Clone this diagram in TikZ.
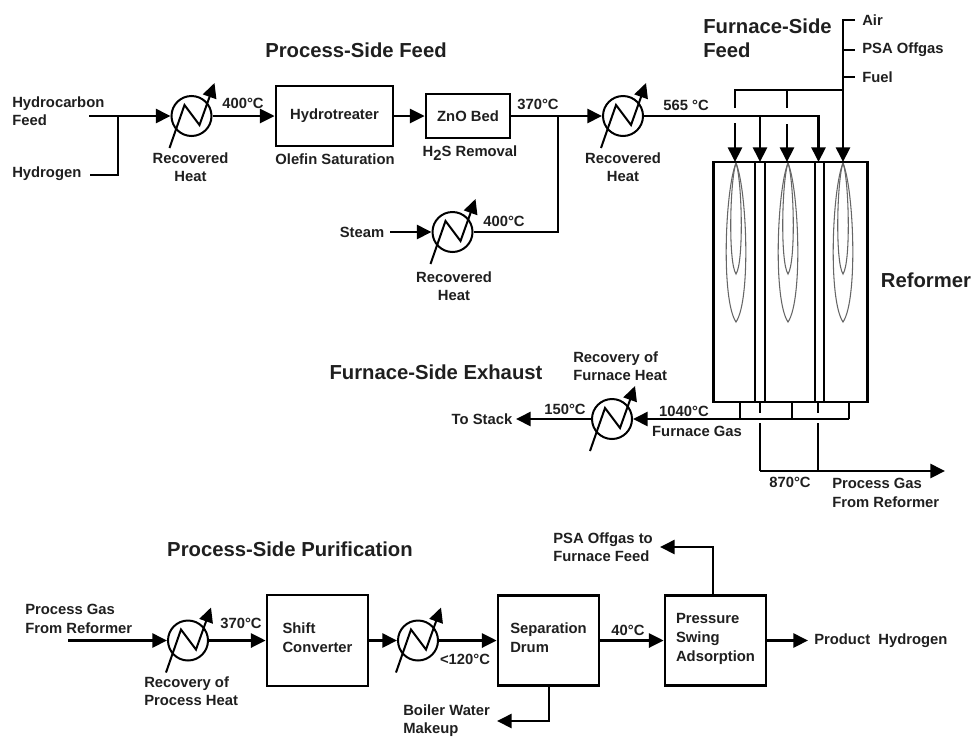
\documentclass[tikz,border=0pt]{standalone}
\usepackage{fontspec}
\setmainfont{Liberation Sans}
\usetikzlibrary{arrows.meta}
\tikzset{
  lbl/.style={inner sep=0pt,font=\fontsize{11.1}{13.7}\selectfont\bfseries,align=left,text=black!88},
  lblc/.style={lbl,align=center},
  head/.style={inner sep=0pt,font=\fontsize{15.2}{18}\selectfont\bfseries,align=left,text=black!88},
  pipe/.style={line width=2pt,line cap=butt,line join=miter},
  flow/.style={pipe,-{Triangle[length=11pt,width=10.5pt]}},
  unitbox/.style n args={2}{draw=black,line width=2.05pt,fill=white,inner sep=0pt,
     minimum width=#1*0.75pt,minimum height=#2*0.75pt,
     font=\fontsize{11.1}{13.7}\selectfont\bfseries,align=left,text=black!88},
  hxc/.style={circle,draw=black,line width=1.5pt,fill=white,inner sep=0pt,minimum size=30pt},
  hot/.style={line width=1.5pt,line join=miter,-{Triangle[length=11pt,width=10.5pt]}},
  flame/.style={draw=black!60,line width=0.8pt},
}
\newcommand{\hxunit}[3]{%
  \node[hxc] (#1) at (#2,#3) {};
  \draw[hot,shift={(#1.center)}] (-22,32) -- (-7,-11) -- (8,9) -- (23,-33);
}
\newcommand{\flameat}[1]{%
  \draw[flame] (#1,163) .. controls (#1+11,190) and (#1+15,300) .. (#1,322)
     .. controls (#1-15,300) and (#1-11,190) .. (#1,163);
  \draw[flame] (#1,163) .. controls (#1+6,180) and (#1+8,262) .. (#1,274)
     .. controls (#1-8,262) and (#1-6,180) .. (#1,163);
}
\begin{document}
\begin{tikzpicture}[x=0.75pt,y=-0.75pt]
\useasboundingbox (0,0) rectangle (973,736);

% ---- process units
\node[unitbox={117}{60}] (hydro) at (334.5,116) {Hydrotreater};
\node[unitbox={84}{44}] (zno) at (468,116) {ZnO Bed};
\node[unitbox={101}{91}] (shift) at (317.5,640.5) {Shift\\[0.5pt]Converter\\[-9pt]\mbox{}};
\node[unitbox={101}{90}] (sep) at (548.5,640.5) {Separation\\[0.5pt]Drum\\[-9pt]\mbox{}};
\node[unitbox={101}{90}] (psa) at (715.5,640.5) {Pressure\\[0.5pt]Swing\\[0.5pt]Adsorption\\[-9pt]\mbox{}};

% ---- heat exchangers
\hxunit{hxa}{191.5}{116}
\hxunit{hxb}{623}{116}
\hxunit{hxs}{452.5}{232}
\hxunit{hxe}{612}{419}
\hxunit{hxp}{188}{640.5}
\hxunit{hxq}{418}{640.5}

% ---- reformer
\node[draw=black,line width=1.9pt,inner sep=0pt,minimum width=115.5pt,minimum height=180pt] (ref) at (790.5,282) {};
\coordinate (wa1) at (755,162); \coordinate (wa2) at (755,402);
\coordinate (wb1) at (765,162); \coordinate (wb2) at (765,402);
\coordinate (wc1) at (815,162); \coordinate (wc2) at (815,402);
\coordinate (wd1) at (824,162); \coordinate (wd2) at (824,402);
\draw[pipe] (wa1) -- (wa2); \draw[pipe] (wb1) -- (wb2);
\draw[pipe] (wc1) -- (wc2); \draw[pipe] (wd1) -- (wd2);
\flameat{736}
\flameat{788}
\flameat{843}

% ---- text labels
\node[head,anchor=center] (tpf) at (356,50) {Process-Side Feed};
\node[head,anchor=west] (tff) at (703,38) {Furnace-Side\\Feed};
\node[head,anchor=center] (tref) at (926,280) {Reformer};
\node[head,anchor=center] (tfe) at (436,372) {Furnace-Side Exhaust};
\node[head,anchor=center] (tpp) at (290,549) {Process-Side Purification};

\node[lbl,anchor=west] (lair) at (862,20) {Air};
\node[lbl,anchor=west] (lpsa) at (862,50) {PSA Offgas};
\node[lbl,anchor=west] (lfuel) at (862,77) {Fuel};
\node[lbl,anchor=west] (lhc) at (12,111) {Hydrocarbon\\Feed};
\node[lbl,anchor=west] (lh2) at (12,174) {Hydrogen};
\node[lblc] (rh1) at (190.5,167) {Recovered\\Heat};
\node[lblc] (t400a) at (243,103) {400°C};
\node[lblc] (lola) at (335,159) {Olefin Saturation};
\node[lblc] (lh2s) at (470,153) {H\raisebox{-3pt}{2}S Removal};
\node[lblc] (t370a) at (538,104) {370°C};
\node[lblc] (rh2) at (623,167) {Recovered\\Heat};
\node[lblc] (t565) at (686,105) {565 °C};
\node[lblc] (lsteam) at (362,232) {Steam};
\node[lblc] (t400b) at (504,221) {400°C};
\node[lblc] (rh3) at (454,286) {Recovered\\Heat};
\node[lbl,anchor=west] (lrfh) at (573,366.5) {Recovery of\\Furnace Heat};
\node[lblc] (lstack) at (482,419) {To Stack};
\node[lblc] (t150) at (565,409) {150°C};
\node[lblc] (t1040) at (684,411) {1040°C};
\node[lblc] (lfg) at (697,431) {Furnace Gas};
\node[lblc] (t870) at (790,482) {870°C};
\node[lbl,anchor=west] (lpgr) at (832,493) {Process Gas\\From Reformer};
\node[lbl,anchor=west] (lpgl) at (25,619) {Process Gas\\From Reformer};
\node[lblc] (t370b) at (241,623) {370°C};
\node[lbl,anchor=west] (lrph) at (144,691) {Recovery of\\Process Heat};
\node[lblc] (t120) at (465,659) {<120°C};
\node[lbl,anchor=west] (lbw) at (403,721) {Boiler Water\\Makeup};
\node[lblc] (t40) at (628,630) {40°C};
\node[lbl,anchor=west] (lof) at (553,547) {PSA Offgas to\\Furnace Feed};
\node[lbl,anchor=west] (lprod) at (814,640.5) {Product\ \ Hydrogen};

% ---- free ends and junctions
\coordinate (hcs) at (89,116);
\coordinate (hys) at (90,175);
\coordinate (hyj) at (118,175);
\coordinate (hcj) at (118,116);
\coordinate (mix) at (558,116);
\coordinate (stm) at (390,232);
\coordinate (mixb) at (558,232);
\coordinate (stk) at (516,419);
\coordinate (pgs) at (68,640.5);
\coordinate (prd) at (808,640.5);
\coordinate (ofa) at (713,547);
\coordinate (oft) at (660,547);
\coordinate (bwa) at (549,721);
\coordinate (bwt) at (497,721);

% ---- process side
\draw[pipe] (hys) -- (hyj) -- (hcj);
\draw[flow] (hcs) -- (hxa.west);
\draw[flow] (hxa.east) -- (hydro.west);
\draw[flow] (hydro.east) -- (zno.west);
\draw[flow] (zno.east) -- (hxb.west);
\draw[pipe] (hxs.east) -- (mixb) -- (mix);
\draw[flow] (stm) -- (hxs.west);

% ---- reformer feeds
\coordinate (top) at (843,20);
\coordinate (airt) at (855,20);
\coordinate (psaj) at (843,50); \coordinate (psat) at (855,50);
\coordinate (fuej) at (843,77); \coordinate (fuet) at (855,77);
\coordinate (hdr) at (843,90);
\coordinate (hl) at (735,90);
\coordinate (hl2) at (735,108);
\coordinate (hm) at (787,90);
\coordinate (hm2) at (787,108);
\coordinate (fa) at (735,123); \coordinate (faT) at (735,162);
\coordinate (fb) at (787,124); \coordinate (fbT) at (787,162);
\coordinate (fcT) at (843,162);
\draw[pipe] (airt) -- (top) -- (fuej);
\draw[pipe] (psaj) -- (psat);
\draw[pipe] (fuej) -- (fuet);
\draw[flow] (top) -- (fcT);
\draw[pipe] (hl2) -- (hl) -- (hdr);
\draw[pipe] (hm) -- (hm2);
\draw[flow] (fa) -- (faT);
\draw[flow] (fb) -- (fbT);
\coordinate (pa) at (760,115); \coordinate (paT) at (760,162);
\coordinate (pb) at (818.5,115); \coordinate (pbT) at (818.5,162);
\draw[pipe] (hxb.east) -- (pb |- hxb.east);
\draw[flow] (pa) -- (paT);
\draw[flow] (pb) -- (pbT);

% ---- reformer outlets
\coordinate (ca1) at (740,402); \coordinate (ca2) at (740,419);
\coordinate (cb1) at (792,402); \coordinate (cb2) at (792,419);
\coordinate (cc1) at (849,402); \coordinate (cc2) at (849,419);
\draw[pipe] (ca1) -- (ca2);
\draw[pipe] (cb1) -- (cb2);
\draw[pipe] (cc1) -- (cc2);
\draw[flow] (cc2) -- (hxe.east);
\draw[flow] (hxe.west) -- (stk);
\coordinate (sa1) at (760,402); \coordinate (sa2) at (760,413);
\coordinate (sb1) at (818,402); \coordinate (sb2) at (818,413);
\coordinate (oa) at (760,423); \coordinate (oa2) at (760,471);
\coordinate (ob) at (818,423); \coordinate (ob2) at (818,471);
\coordinate (oend) at (945,471);
\draw[pipe] (sa1) -- (sa2);
\draw[pipe] (sb1) -- (sb2);
\draw[pipe] (oa) -- (oa2);
\draw[pipe] (ob) -- (ob2);
\draw[flow] (oa2) -- (oend);

% ---- purification
\draw[flow] (pgs) -- (hxp.west);
\draw[flow] (hxp.east) -- (shift.west);
\draw[flow] (shift.east) -- (hxq.west);
\draw[flow] (hxq.east) -- (sep.west);
\draw[flow] (sep.east) -- (psa.west);
\draw[flow] (psa.east) -- (prd);
\draw[flow] (psa.north -| ofa) -- (ofa) -- (oft);
\draw[flow] (sep.south -| bwa) -- (bwa) -- (bwt);
\end{tikzpicture}
\end{document}
